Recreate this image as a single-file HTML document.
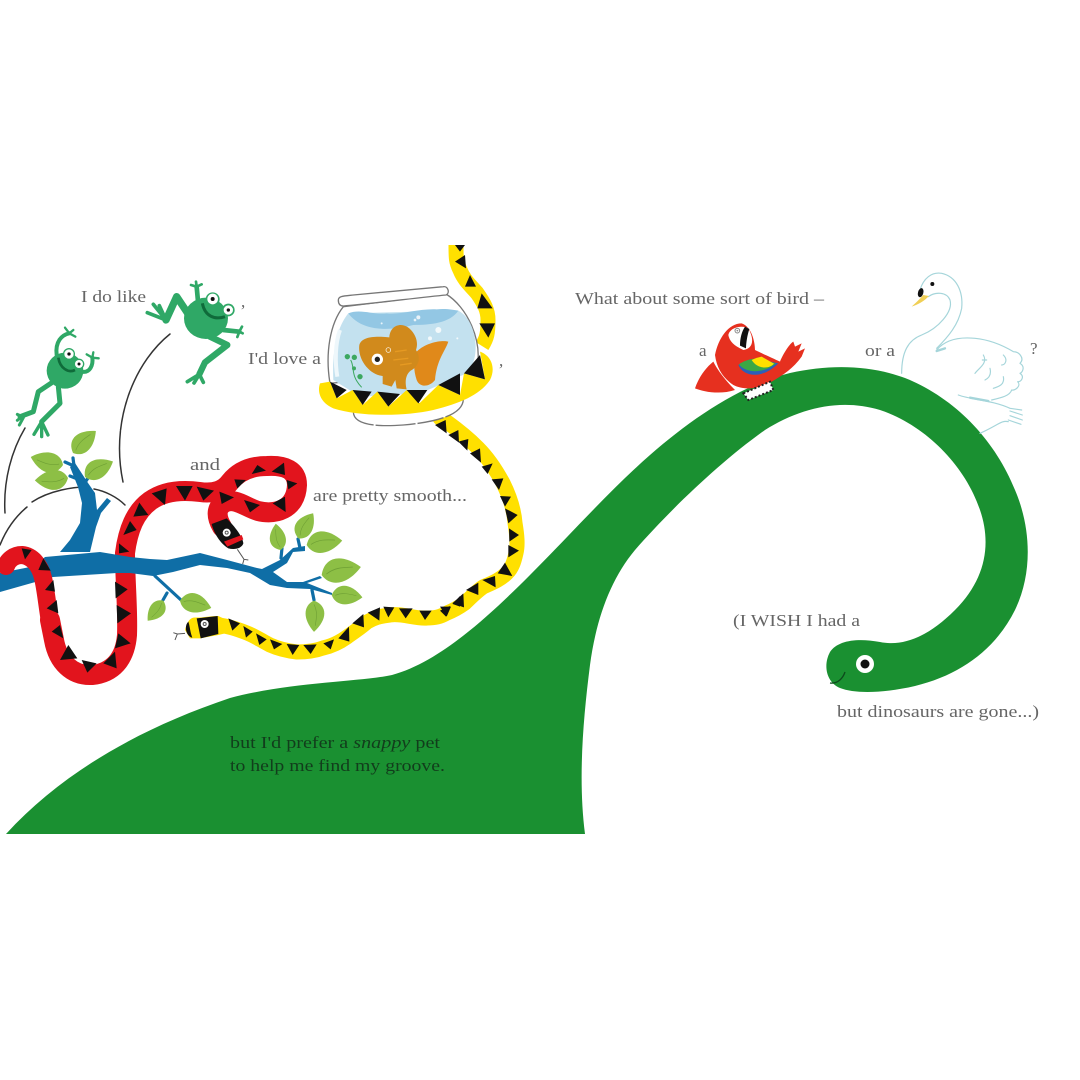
<!DOCTYPE html>
<html><head><meta charset="utf-8"><style>
html,body{margin:0;padding:0;background:#fff}
svg{display:block}
text{font-family:"Liberation Serif",serif;font-size:17px;fill:#666}
</style></head><body>
<svg width="1080" height="1080" viewBox="0 0 1080 1080" xmlns="http://www.w3.org/2000/svg">
<defs>
<g id="leaf"><path d="M0,0 C4,-11 15,-11 25,0 C15,9 4,9 0,0Z" fill="#8dbf45"/><path d="M3,0 C9,-3 14,-2 20,-1" fill="none" stroke="#6fa035" stroke-width=".5"/></g>
</defs>
<rect width="1080" height="1080" fill="#fff"/>

<!-- dinosaur -->
<path d="M6,834 C60,775 135,730 230,698 C290,682 360,682 392,675 C440,662 490,615 530,575 C570,535 610,490 650,455 C690,420 740,385 790,373 C830,364 870,365 905,378 C955,398 995,440 1015,490 C1032,530 1032,575 1015,610 C995,650 960,675 915,686 C885,693 855,694 840,688 C826,682 823,665 830,652 C838,640 858,638 880,642 C905,647 930,635 955,610 C985,580 992,545 980,510 C965,465 925,425 880,410 C840,398 800,408 765,430 C720,462 670,510 635,550 C610,580 596,620 590,665 C583,720 578,780 585,834Z" fill="#1a9031"/>
<circle cx="865" cy="664" r="9" fill="#fff"/><circle cx="865" cy="664" r="4.5" fill="#111"/>
<path d="M830,683 C838,684 843,678 845,672" fill="none" stroke="#0d4a1c" stroke-width="1.3"/>

<!-- arcs -->
<g fill="none" stroke="#333" stroke-width="1.5" stroke-linecap="round">
<path d="M25,428 C12,450 3,480 5,513"/>
<path d="M170,334 C135,362 110,420 123,482" stroke-dasharray="70 1 40 1"/>
<path d="M0,545 C6,530 15,517 27,507"/>
<path d="M32,502 C50,490 75,487 85,487"/>
<path d="M94,489 C105,491 117,497 125,505"/>
</g>

<!-- red snake -->
<path d="M222,527 C215,515 217,507 224,503 C235,497 245,507 258,511 C275,515 296,510 297,485 C297,470 285,465 267,466 C250,466 238,472 230,482 C224,490 215,494 200,492 C185,490 165,490 150,501 C135,512 128,530 125,553 C125,580 128,610 127,635 C125,660 112,673 92,675 C72,676 58,662 54,640 L50,620" fill="none" stroke="#e2141d" stroke-width="20" stroke-linecap="round"/>
<g transform="translate(120,450) scale(.33333)" fill="#111">
<path d="M-3,280 L28,305 L-3,310Z M30,213 L50,240 L10,255Z M58,158 L85,195 L40,200Z M95,130 L140,115 L135,165Z M168,108 L218,108 L195,152Z M230,110 L282,122 L250,152Z M298,125 L342,142 L305,162Z M372,150 L420,165 L390,187Z M495,140 L497,186 L458,160Z M500,90 L532,100 L505,118Z M455,65 L492,38 L495,75Z M395,72 L412,45 L438,62Z M343,88 L378,90 L352,115Z"/>
<!-- head -->
<path d="M275,222 L320,205 C345,230 368,260 370,280 C365,295 345,300 325,295 C300,280 282,250 275,222Z"/>
<path d="M312,275 L365,255 L370,268 L322,290Z" fill="#e2141d"/>
<circle cx="320" cy="248" r="12" fill="#fff"/><circle cx="320" cy="248" r="6" fill="#555"/><circle cx="320" cy="248" r="3" fill="#fff"/>
<path d="M352,298 L372,328 L385,330 M372,328 L368,342" fill="none" stroke="#555" stroke-width="3"/>
</g>
<g transform="translate(0,450) scale(.33333)" fill="#111">
<path d="M345,395 L383,418 L347,445Z M350,465 L393,490 L352,520Z M345,595 L392,580 L355,550Z M310,640 L345,605 L350,655Z M245,630 L290,640 L262,668Z M180,630 L205,585 L232,625Z"/>
</g>

<!-- branch -->
<path fill="#0f6ea6" d="M0,573 L35,566 L45,557 L100,552 L130,557 L150,559 L167,560 L200,553 L227,560 L257,568 L262,569 L280,560 L293,548 L305,546 L305,551 L293,552 L287,563 L273,572 L287,582 L303,582 L320,576 L322,578 L307,583 L332,593 L332,595 L310,589 L287,588 L270,585 L250,573 L227,568 L200,565 L173,572 L153,576 L130,573 L117,573 L53,577 L0,592Z"/>
<path fill="#0f6ea6" d="M60,552 L70,540 L80,523 L82,503 L78,487 L70,467 L75,463 L88,483 L95,493 L97,510 L107,498 L111,501 L101,513 L96,527 L90,552Z"/>
<g fill="none" stroke="#0f6ea6" stroke-width="3.2" stroke-linecap="round">
<path d="M155,576 L181,600"/><path d="M167,593 L163,600"/>
<path d="M282,548 L281,558"/><path d="M298,539 L300,548"/><path d="M312,590 L314,600"/>
<path d="M74,466 L65,462"/><path d="M80,480 L70,476"/><path d="M84,484 L90,475"/><path d="M73,458 L74,466"/>
</g>
<!-- leaves upper -->
<use href="#leaf" transform="translate(73,453) rotate(-44) scale(1.27)"/>
<use href="#leaf" transform="translate(63,465) rotate(194) scale(1.33)"/>
<use href="#leaf" transform="translate(68,478) rotate(176) scale(1.33)"/>
<use href="#leaf" transform="translate(85,477) rotate(-29) scale(1.28)"/>
<g transform="translate(130,510) scale(.33333)">
<use href="#leaf" transform="translate(530,105) rotate(-7) scale(4.3)"/>
<use href="#leaf" transform="translate(575,195) rotate(-11.5) scale(4.8)"/>
<use href="#leaf" transform="translate(605,255) rotate(4.5) scale(3.7)"/>
<use href="#leaf" transform="translate(552,272) rotate(90) scale(3.75)"/>
<use href="#leaf" transform="translate(505,85) rotate(-59.5) scale(3.5)"/>
<use href="#leaf" transform="translate(452,120) rotate(-100.6) scale(3.2)"/>
<use href="#leaf" transform="translate(150,272) rotate(13) scale(3.85)"/>
<use href="#leaf" transform="translate(100,272) rotate(128) scale(3.05)"/>
</g>

<!-- red tail over branch -->
<path d="M51,628 C47,605 46,590 43,578 C40,565 32,556 22,555 C14,555 8,560 6,566" fill="none" stroke="#e2141d" stroke-width="18" stroke-linecap="round"/>
<g transform="translate(0,450) scale(.33333)" fill="#111">
<path d="M65,295 L95,300 L75,328Z M115,360 L130,325 L152,362Z M135,420 L160,390 L165,425Z M140,475 L170,450 L175,490Z M155,545 L180,525 L190,565Z"/>
</g>

<!-- yellow snake top -->
<path d="M456,245 C456,258 456,262 460,270 C464,280 470,285 477,293 C484,303 488,310 488,320 C488,333 487,338 482,346" fill="none" stroke="#ffe000" stroke-width="15"/>
<g transform="translate(300,240) scale(.33333)" fill="#111">
<path d="M465,15 L495,15 L480,35Z M465,65 L495,45 L498,85Z M495,140 L510,105 L528,140Z M532,205 L545,160 L578,205Z M538,250 L585,250 L565,293Z"/>
</g>

<!-- yellow snake lower -->
<path d="M440,418 L447,422 C458,430 468,438 478,448 C488,458 496,470 503,483 C510,497 514,510 515,523 C517,535 518,545 516,553 C514,562 512,568 507,573 C500,580 492,583 483,587 C476,592 470,598 465,603 C458,608 452,611 447,613 C440,617 435,618 427,618 C415,619 402,613 390,615 C380,616 374,618 367,622 C360,628 354,632 347,637 C340,642 332,646 323,648 C315,651 306,652 297,652 C288,651 279,649 270,645 C262,641 255,636 247,633 C237,629 228,626 218,625 L195,625" fill="none" stroke="#ffe000" stroke-width="15" stroke-linecap="round"/>
<g transform="translate(425,410) scale(.33333)" fill="#111">
<path d="M30,45 L62,30 L65,70Z M70,75 L100,60 L102,98Z M100,95 L130,87 L127,122Z M135,130 L165,115 L168,158Z M170,170 L203,160 L188,192Z M200,208 L235,205 L222,240Z M225,258 L258,260 L240,290Z M240,295 L278,315 L250,340Z M252,355 L282,375 L253,395Z M250,405 L282,422 L250,442Z M218,490 L240,458 L262,498Z M172,510 L210,498 L212,532Z M123,540 L160,518 L160,555Z M82,580 L115,550 L117,592Z M45,590 L78,590 L65,620Z"/>
</g>
<g transform="translate(170,590) scale(.33333)">
<path fill="#111" d="M175,85 L210,100 L187,122Z M220,108 L248,125 L228,143Z M258,130 L290,148 L268,165Z M300,148 L337,162 L312,178Z M350,162 L388,165 L368,195Z M400,165 L440,163 L422,192Z M460,160 L492,148 L482,178Z M505,145 L537,110 L538,155Z M547,100 L580,72 L582,112Z M593,68 L630,52 L628,92Z M640,50 L673,52 L655,82Z M687,55 L728,55 L707,85Z M748,62 L785,62 L765,90Z M810,62 L840,48 L828,80Z M848,42 L870,18 L870,50Z"/>
<path fill="#ffe000" d="M45,120 C50,95 70,80 145,78 L170,90 L175,128 L145,135 L90,145 L60,145Z"/>
<path fill="#111" d="M80,85 L143,78 L145,132 L92,145Z"/>
<path fill="#111" d="M55,95 C40,110 50,140 67,143 C60,125 60,110 55,95Z"/>
<circle cx="104" cy="102" r="12" fill="#fff"/><circle cx="104" cy="102" r="6" fill="#555"/><circle cx="104" cy="102" r="3" fill="#fff"/>
<path d="M45,130 L22,132 L10,128 M22,132 L15,150" fill="none" stroke="#555" stroke-width="3"/>
</g>

<!-- bowl -->
<g transform="translate(320,280) scale(.33333)">
<path d="M100,395 C100,430 150,442 250,435 C330,428 432,410 430,355Z" fill="#fff" stroke="#777" stroke-width="4" stroke-dasharray="80 6 120 6"/>
<path d="M70,80 C30,130 15,220 30,310 L470,270 C490,180 440,80 378,42Z" fill="#fff" stroke="#777" stroke-width="4"/>
<path d="M85,100 C60,130 35,190 40,300 L120,350 L300,340 L440,280 C470,250 475,190 455,140 C445,115 430,100 415,92Z" fill="#c3e1ef"/>
<path d="M60,150 C45,190 45,250 52,290" fill="none" stroke="#eef7fb" stroke-width="12"/>
<path d="M85,100 C120,85 160,105 200,100 C240,105 300,85 350,88 C380,85 400,90 415,92 C390,130 330,135 280,135 C220,150 130,160 85,100Z" fill="#93c7e4"/>
<g fill="#fff" opacity=".8"><circle cx="295" cy="112" r="6"/><circle cx="285" cy="120" r="4"/><circle cx="355" cy="150" r="9"/><circle cx="330" cy="175" r="6"/><circle cx="412" cy="175" r="3"/><circle cx="185" cy="130" r="3"/></g>
<path d="M55,60 C55,48 70,48 100,45 L370,20 C385,18 390,40 378,45 C300,52 150,72 70,78 C58,78 55,70 55,60Z" fill="#fff" stroke="#777" stroke-width="4"/>
<!-- fish -->
<path d="M290,215 C320,185 370,180 385,185 C375,215 350,240 345,300 C330,320 300,325 290,300 C280,270 280,240 290,215Z" fill="#e0891a"/>
<path d="M118,195 C125,168 170,168 208,172 C210,135 245,125 268,145 C290,165 295,190 288,210 C305,235 295,260 272,272 C255,285 255,310 260,328 L230,325 L226,300 L215,320 L188,312 L188,288 C150,285 112,240 118,195Z" fill="#d18a1c"/>
<path d="M225,215 L260,210 M220,240 L265,235 M240,255 L275,250" fill="none" stroke="#e69a22" stroke-width="4"/>
<circle cx="172" cy="238" r="17" fill="#fff"/><circle cx="172" cy="238" r="8" fill="#222"/>
<circle cx="205" cy="210" r="7" fill="none" stroke="#fff" stroke-width="2"/>
<path d="M92,240 C105,262 90,285 125,322" fill="none" stroke="#3ca860" stroke-width="3"/>
<g fill="#3ca860"><circle cx="82" cy="230" r="8"/><circle cx="103" cy="232" r="8"/><circle cx="102" cy="265" r="6"/><circle cx="120" cy="290" r="8"/></g>
<!-- ring -->
<path d="M480,215 C510,225 530,260 510,300 C480,345 420,370 340,390 C250,410 120,410 40,385 C5,370 -10,340 0,310 L30,305 L50,355 L98,330 L128,375 L172,335 L205,380 L260,330 L298,370 L355,315 L420,345 L432,280 L495,298Z" fill="#ffe000"/>
<path fill="#111" d="M30,305 L80,330 L50,355Z M98,330 L155,335 L128,375Z M172,335 L240,342 L205,380Z M260,330 L322,330 L295,370Z M355,315 L420,280 L420,345Z M432,280 L480,225 L495,298Z"/>
</g>

<!-- frogs -->
<g transform="translate(10,275) scale(.33333)">
<g fill="none" stroke="#2fa866" stroke-linecap="round" stroke-linejoin="round">
<path d="M540,125 L500,65 L468,135" stroke-width="22"/>
<path d="M468,135 L412,113 M468,135 L430,88 M468,135 L448,92" stroke-width="11"/>
<path d="M565,90 L560,35" stroke-width="14"/>
<path d="M560,35 L543,30 M560,35 L558,20 M560,35 L575,28" stroke-width="8"/>
<path d="M640,165 L688,170" stroke-width="14"/>
<path d="M688,170 L696,155 M688,170 L698,175 M688,170 L682,186" stroke-width="8"/>
<path d="M600,185 L652,210 L585,262 L568,298" stroke-width="19"/>
<path d="M568,298 L532,320 M568,298 L552,324 M568,298 L580,322" stroke-width="11"/>
<path d="M130,320 L85,350 L70,410 L30,425" stroke-width="15"/>
<path d="M35,424 L22,418 M35,426 L22,436 M40,428 L28,450" stroke-width="9"/>
<path d="M145,335 L150,385 L95,440" stroke-width="15"/>
<path d="M95,440 L72,478 M95,440 L95,485 M95,440 L114,480" stroke-width="10"/>
<path d="M140,240 C135,200 155,180 178,175" stroke-width="12"/>
<path d="M178,175 L165,158 M178,175 L190,165 M178,175 L196,185" stroke-width="7"/>
<path d="M215,290 C240,295 250,270 247,248" stroke-width="12"/>
<path d="M247,248 L230,238 M247,248 L250,232 M247,248 L266,250" stroke-width="7"/>
</g>
<ellipse cx="588" cy="130" rx="66" ry="62" fill="#2fa866"/>
<circle cx="608" cy="73" r="21" fill="#2fa866"/><circle cx="655" cy="105" r="19" fill="#2fa866"/>
<circle cx="608" cy="72" r="16" fill="#fff"/><circle cx="608" cy="72" r="6" fill="#111"/>
<circle cx="655" cy="105" r="14" fill="#fff"/><circle cx="655" cy="105" r="5" fill="#111"/>
<path d="M577,85 C585,125 615,135 645,125" fill="none" stroke="#0f6b3a" stroke-width="9"/>
<ellipse cx="165" cy="287" rx="55" ry="54" fill="#2fa866"/>
<circle cx="177" cy="237" r="18" fill="#2fa866"/><circle cx="207" cy="267" r="16" fill="#2fa866"/>
<circle cx="177" cy="237" r="14" fill="#fff"/><circle cx="177" cy="237" r="5" fill="#111"/>
<circle cx="207" cy="267" r="12" fill="#fff"/><circle cx="207" cy="267" r="4.5" fill="#111"/>
<path d="M145,248 C150,280 175,295 195,285" fill="none" stroke="#0f6b3a" stroke-width="8"/>
</g>

<!-- parrot -->
<g transform="translate(690,315) scale(.33333)">
<path d="M70,140 C45,160 25,190 15,220 C40,230 90,240 135,225 C110,200 85,170 70,140Z" fill="#e6301f"/>
<path d="M75,120 C85,70 115,25 155,25 C185,35 195,80 195,105 C215,115 250,130 270,140 C280,115 300,85 310,80 L315,95 L335,85 L325,110 L345,100 L335,125 C310,160 280,180 245,200 C200,225 160,225 130,210 C100,190 80,160 75,120Z" fill="#e6301f"/>
<path d="M115,60 C120,35 160,30 175,40 C192,70 192,100 160,105 C140,95 120,85 115,60Z" fill="#fff"/>
<path d="M165,35 L178,42 C172,60 168,85 168,100 L150,92 C150,70 155,50 165,35Z" fill="#111"/>
<circle cx="142" cy="47" r="7" fill="none" stroke="#888" stroke-width="3"/><circle cx="142" cy="47" r="2.5" fill="#888"/>
<path d="M145,150 C160,185 215,195 265,145 L200,130 C180,132 160,138 145,150Z" fill="#2d5fb8"/>
<path d="M147,148 C165,172 215,180 258,145 L200,130 C180,132 160,138 147,148Z" fill="#3aa845"/>
<path d="M185,135 C200,160 235,165 252,146 L215,125 C205,127 195,130 185,135Z" fill="#ffe000"/>
<path d="M160,235 L240,200 L250,225 L175,255Z" fill="#fff" stroke="#222" stroke-width="6" stroke-dasharray="6 6"/>
</g>

<!-- swan -->
<g transform="translate(895,265) scale(.33333)" fill="none" stroke="#a5d5da" stroke-width="3.5" stroke-linecap="round" stroke-linejoin="round">
<path d="M75,75 C85,40 110,20 140,25 C185,35 205,80 200,130 C190,180 160,215 125,250"/>
<path d="M100,95 C120,80 155,80 165,105 C175,140 130,190 80,210 C40,225 20,260 20,325"/>
<path d="M125,255 C150,225 190,215 240,220 C290,225 330,245 355,260 C372,260 390,280 375,295 C392,305 382,322 375,325 C390,335 378,352 368,350 C380,362 360,378 350,375 C345,392 320,398 290,405"/>
<path d="M190,390 C230,405 290,405 345,430 L380,435 M345,438 L382,450 M345,452 L382,465 M340,465 L378,478"/>
<path d="M340,470 C320,465 310,480 255,505"/>
<path d="M125,258 L150,250" stroke-width="7"/>
<path d="M225,398 L280,408" stroke-width="7"/>
<path d="M265,270 C280,295 250,310 240,325 M262,285 L275,285 M285,310 C290,330 280,340 270,345 M325,270 C340,285 330,300 320,300 M325,335 C330,360 310,365 295,370"/>
<path d="M50,125 C70,118 88,108 102,93 L85,90 C72,105 60,115 50,125Z" fill="#f0cf55" stroke="none"/>
<ellipse cx="77" cy="83" rx="8" ry="14" transform="rotate(15 77 83)" fill="#111" stroke="none"/>
<circle cx="112" cy="57" r="6" fill="#111" stroke="none"/>
</g>

<!-- text -->
<text x="81" y="302" textLength="65" lengthAdjust="spacingAndGlyphs">I do like</text>
<text x="241" y="307">,</text>
<text x="248" y="364" textLength="73" lengthAdjust="spacingAndGlyphs">I'd love a</text>
<text x="499" y="366">,</text>
<text x="190" y="470" textLength="30" lengthAdjust="spacingAndGlyphs">and</text>
<text x="313" y="501" textLength="154" lengthAdjust="spacingAndGlyphs">are pretty smooth...</text>
<text x="575" y="304" textLength="249" lengthAdjust="spacingAndGlyphs">What about some sort of bird –</text>
<text x="699" y="356">a</text>
<text x="865" y="356" textLength="30" lengthAdjust="spacingAndGlyphs">or a</text>
<text x="1030" y="354">?</text>
<text x="733" y="626" textLength="127" lengthAdjust="spacingAndGlyphs">(I WISH I had a</text>
<text x="837" y="717" textLength="202" lengthAdjust="spacingAndGlyphs">but dinosaurs are gone...)</text>
<text x="230" y="748" textLength="210" lengthAdjust="spacingAndGlyphs" style="fill:#123d1c">but I'd prefer a <tspan font-style="italic">snappy</tspan> pet</text>
<text x="230" y="771" textLength="215" lengthAdjust="spacingAndGlyphs" style="fill:#123d1c">to help me find my groove.</text>
</svg>
</body></html>
